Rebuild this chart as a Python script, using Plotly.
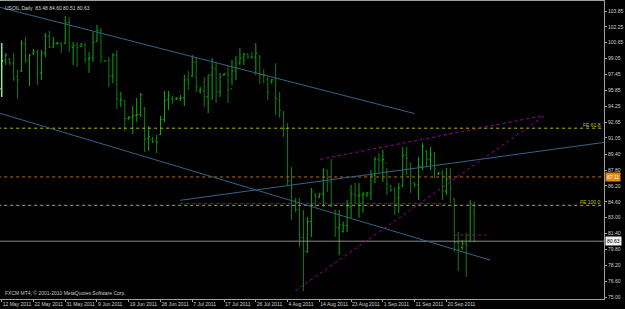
import plotly.graph_objects as go

# ---------------- data (USOIL daily, one bar per trading day incl. Sunday bars) ----------------
bar_open = [96.0, 98.9, 99.0, 98.6, 97.2, 97.8, 100.5, 98.9, 99.6, 99.8,
            97.6, 99.6, 101.3, 100.3, 100.6, 100.6, 100.6, 102.7, 100.2, 100.4,
            100.3, 100.4, 99.0, 99.1, 100.8, 101.9, 98.8, 98.9, 97.3, 99.4,
            94.8, 94.8, 93.0, 93.1, 93.3, 93.4, 94.0, 91.0, 90.9, 90.7,
            91.4, 92.9, 94.9, 95.0, 95.0, 95.0, 95.1, 96.9, 97.3, 98.7,
            95.8, 95.8, 95.2, 97.4, 98.0, 95.7, 97.4, 97.5, 96.0, 97.8,
            98.6, 99.1, 99.5, 99.2, 99.2, 99.3, 97.4, 97.0, 96.6, 96.9,
            94.9, 93.5, 92.0, 86.7, 84.7, 83.8, 81.0, 79.6, 82.6, 85.3,
            85.1, 85.4, 87.8, 86.6, 83.7, 82.0, 81.6, 82.2, 84.1, 85.4,
            85.2, 85.3, 85.3, 85.5, 87.3, 88.9, 88.8, 88.5, 86.2, 85.8,
            85.0, 86.2, 89.3, 88.5, 86.5, 86.3, 88.2, 89.7, 88.9, 89.4,
            87.4, 87.5, 85.7, 86.9, 84.9, 80.5, 80.0, 80.4, 80.6, 83.48]
bar_high = [100.62, 99.61, 99.11, 99.61, 97.90, 100.92, 101.23, 99.51, 100.02, 99.92,
            99.92, 101.63, 101.83, 101.23, 100.72, 100.72, 103.35, 103.25, 100.72, 100.72,
            100.62, 100.62, 99.71, 101.73, 102.44, 102.14, 98.91, 99.21, 99.61, 99.92,
            95.68, 94.87, 93.26, 94.27, 95.07, 95.58, 94.17, 92.25, 91.14, 91.34,
            93.26, 95.78, 95.78, 95.28, 95.17, 95.38, 97.39, 97.80, 99.41, 99.11,
            96.20, 97.19, 97.39, 99.11, 98.71, 97.60, 97.60, 98.30, 98.91, 99.31,
            100.12, 99.61, 99.61, 99.71, 100.62, 99.41, 98.00, 97.19, 96.99, 98.60,
            95.68, 93.76, 92.55, 88.11, 84.98, 84.98, 83.78, 83.07, 86.00, 85.49,
            85.49, 88.01, 87.81, 88.92, 83.78, 83.78, 82.60, 84.78, 86.30, 86.50,
            86.50, 85.59, 85.59, 87.81, 89.12, 89.53, 89.83, 88.01, 86.30, 86.10,
            86.50, 90.13, 90.13, 88.52, 86.60, 89.12, 90.53, 89.83, 90.13, 89.63,
            87.61, 87.81, 88.01, 88.01, 84.98, 81.56, 80.75, 81.46, 84.78, 84.60]
bar_low = [95.17, 98.40, 98.40, 96.79, 94.97, 97.70, 98.60, 96.28, 99.41, 96.39,
           96.89, 99.21, 100.12, 100.12, 100.42, 99.61, 100.52, 99.71, 98.40, 98.20,
           100.22, 98.60, 97.60, 98.71, 100.72, 98.60, 98.71, 96.18, 96.59, 93.96,
           94.17, 91.74, 92.85, 91.44, 92.65, 93.16, 89.63, 89.73, 90.53, 89.53,
           91.34, 92.65, 93.86, 94.47, 94.87, 94.77, 94.27, 95.88, 97.19, 95.68,
           95.50, 94.17, 93.56, 94.87, 94.57, 95.17, 97.29, 94.57, 96.39, 96.89,
           98.40, 98.40, 99.01, 99.01, 97.39, 96.49, 96.59, 94.87, 96.59, 93.36,
           93.06, 91.14, 86.20, 82.77, 83.57, 80.04, 75.60, 79.44, 81.06, 84.08,
           84.98, 84.08, 85.59, 84.08, 81.06, 79.24, 81.50, 81.56, 82.97, 84.48,
           82.97, 83.50, 85.09, 84.78, 86.50, 87.51, 86.60, 85.29, 85.59, 83.27,
           83.47, 86.10, 87.31, 85.49, 86.10, 84.78, 87.81, 88.11, 87.81, 87.00,
           87.31, 84.78, 85.29, 84.48, 79.54, 77.62, 79.74, 77.02, 80.55, 80.51]
bar_close = [98.8, 99.4, 98.6, 97.0, 96.9, 100.6, 98.9, 99.4, 99.8, 97.7,
             99.6, 101.3, 100.2, 100.6, 100.6, 100.3, 102.7, 100.3, 100.4, 100.2,
             100.5, 99.0, 99.1, 100.7, 101.9, 99.3, 98.8, 97.3, 99.4, 95.0,
             94.9, 93.0, 93.1, 93.3, 93.4, 95.4, 91.0, 91.2, 90.7, 90.6,
             92.9, 94.8, 95.4, 94.9, 95.0, 95.1, 96.9, 96.6, 98.7, 96.2,
             95.9, 95.2, 97.4, 98.1, 95.7, 97.2, 97.5, 95.9, 97.8, 98.1,
             99.1, 99.5, 99.2, 99.2, 99.6, 97.4, 97.4, 95.7, 96.9, 95.0,
             93.8, 92.0, 86.7, 86.0, 83.8, 81.0, 79.6, 82.6, 85.6, 85.1,
             85.4, 87.8, 86.6, 84.3, 82.0, 82.3, 82.2, 84.1, 85.4, 85.2,
             85.3, 85.4, 85.5, 87.3, 88.9, 88.8, 88.9, 86.4, 85.8, 85.0,
             86.0, 89.3, 89.0, 87.2, 86.3, 88.2, 90.2, 88.9, 89.4, 88.0,
             87.5, 85.7, 86.9, 85.9, 80.5, 79.8, 80.4, 80.2, 84.4, 80.63]

date_tick_bars = [0, 8, 16, 24, 32, 40, 48, 56, 64, 72, 80, 88, 96, 104, 112]
date_tick_text = ["12 May 2011", "22 May 2011", "31 May 2011", "9 Jun 2011", "19 Jun 2011",
                  "28 Jun 2011", "7 Jul 2011", "17 Jul 2011", "26 Jul 2011", "4 Aug 2011",
                  "14 Aug 2011", "23 Aug 2011", "1 Sep 2011", "11 Sep 2011", "20 Sep 2011"]
price_ticks = [103.85, 102.25, 100.65, 99.05, 97.45, 95.85, 94.25, 92.65, 91.05, 89.40,
               87.80, 86.20, 84.60, 83.00, 81.40, 79.80, 78.20, 76.60, 75.00]

# drawn objects (bar index, price)
trend_upper = ([-1, 104], [104.28, 93.50])
trend_lower = ([-1, 123], [93.60, 78.73])
trend_rising = ([45, 160], [84.76, 91.05])
fe_line_a = ([74, 136.6], [75.63, 93.26])
fe_line_b = ([80.2, 136.6], [88.89, 93.31])
magenta_h1 = ([45, 112], [84.45, 84.45])
magenta_h2 = ([114, 122], [81.25, 81.25])
fe_618 = 92.03
fe_100 = 84.25
orange_level = 87.11
bid_price = 80.63
title_text = "USOIL,Daily  83.48 84.60 80.51 80.63"
copyright_text = "FXCM MT4, \u00a9 2001-2010 MetaQuotes Software Corp."

# ---------------- figure ----------------
bars = list(range(len(bar_open)))
FONT = "Liberation Sans"
fig = go.Figure()

def line(xs, ys, color, dash="solid", width=1):
    fig.add_trace(go.Scatter(x=xs, y=ys, mode="lines", hoverinfo="skip",
                             line=dict(color=color, width=width, dash=dash)))

XMIN, XMAX = -0.43, 151.7
for lvl, col in [(fe_618, "#b8b800"), (fe_100, "#b8b800"), (orange_level, "#c07010")]:
    line([XMIN - 5, XMAX + 5], [lvl, lvl], col, "dot")
line([XMIN - 5, XMAX + 5], [bid_price, bid_price], "#8a8a8a")
line(*trend_upper, "#33648a")
line(*trend_lower, "#33648a")
line(*trend_rising, "#33648a")
line(*fe_line_a, "#a000a0", "dot")
line(*fe_line_b, "#a000a0", "dot")
line(*magenta_h1, "#a000a0", "dot")
line(*magenta_h2, "#a000a0", "dot")

# first (partly scrolled-off, highlighted) bar
fig.add_trace(go.Ohlc(x=bars[:1], open=bar_open[:1], high=bar_high[:1], low=bar_low[:1],
                      close=bar_close[:1], tickwidth=0.35, hoverinfo="skip",
                      increasing=dict(line=dict(color="#8ee68e", width=1.5)),
                      decreasing=dict(line=dict(color="#8ee68e", width=1.5))))
fig.add_trace(go.Ohlc(x=bars[1:], open=bar_open[1:], high=bar_high[1:], low=bar_low[1:],
                      close=bar_close[1:], tickwidth=0.35, hoverinfo="skip",
                      increasing=dict(line=dict(color="#12a612", width=1)),
                      decreasing=dict(line=dict(color="#0e7e0e", width=1))))

ann = []
ann.append(dict(xref="paper", yref="paper", x=0, y=1, xanchor="left", yanchor="top",
                xshift=3, yshift=-2, text=title_text, showarrow=False,
                font=dict(family=FONT, size=5, color="#d8d8d8")))
ann.append(dict(xref="paper", yref="paper", x=0, y=0, xanchor="left", yanchor="bottom",
                xshift=3, yshift=1, text=copyright_text, showarrow=False,
                font=dict(family=FONT, size=5, color="#c8c8c8")))
ann.append(dict(xref="paper", yref="y", x=1, y=fe_618, xanchor="right", yanchor="bottom",
                xshift=-1, yshift=-2, text="FE 61.8", showarrow=False,
                font=dict(family=FONT, size=5, color="#c8c800")))
ann.append(dict(xref="paper", yref="y", x=1, y=fe_100, xanchor="right", yanchor="bottom",
                xshift=-1, yshift=-2, text="FE 100.0", showarrow=False,
                font=dict(family=FONT, size=5, color="#c8c800")))
ann.append(dict(xref="paper", yref="y", x=1, y=orange_level, xanchor="left", yanchor="middle",
                xshift=1, text="%.2f" % orange_level, showarrow=False, bgcolor="#e08a10",
                borderpad=1, font=dict(family=FONT, size=5, color="#ffffff")))
ann.append(dict(xref="paper", yref="y", x=1, y=bid_price, xanchor="left", yanchor="middle",
                xshift=1, text="%.2f" % bid_price, showarrow=False, bgcolor="#f0f0f0",
                borderpad=1, font=dict(family=FONT, size=5, color="#000000")))

fig.update_layout(
    width=625, height=309, margin=dict(l=0, r=21, t=1, b=10),
    paper_bgcolor="#000000", plot_bgcolor="#000000", showlegend=False,
    annotations=ann,
    xaxis=dict(range=[XMIN, XMAX], showgrid=False, zeroline=False, showline=True, mirror=True,
               linecolor="#a0a0a0", linewidth=1, ticks="outside", ticklen=2, tickcolor="#a0a0a0",
               tickvals=date_tick_bars, ticktext=date_tick_text, ticklabelposition="outside right",
               tickangle=0, ticklabeloverflow="allow",
               tickfont=dict(family=FONT, size=5, color="#d0d0d0"),
               rangeslider=dict(visible=False), fixedrange=True),
    yaxis=dict(range=[74.80, 104.86], side="right", showgrid=False, zeroline=False, showline=True,
               mirror=True, linecolor="#a0a0a0", linewidth=1, ticks="outside", ticklen=2,
               tickcolor="#a0a0a0", tickvals=price_ticks, ticktext=["%.2f" % v for v in price_ticks],
               tickfont=dict(family=FONT, size=5, color="#d0d0d0"), fixedrange=True),
)
fig.write_html("out.html")
